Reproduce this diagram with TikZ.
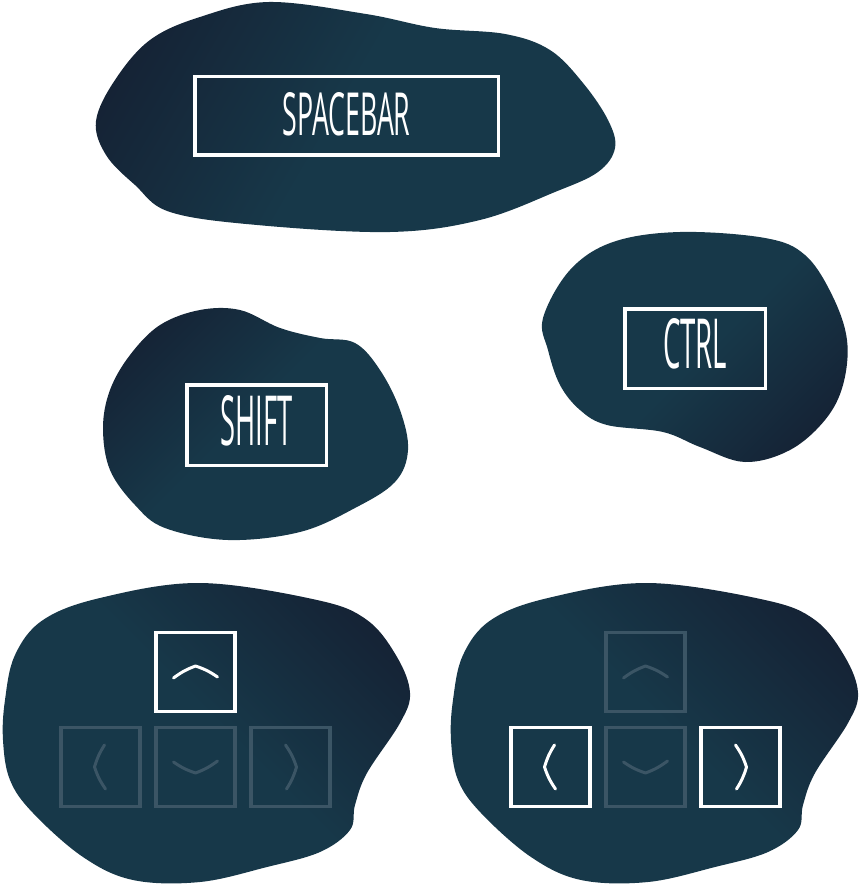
\documentclass[tikz,border=0pt]{standalone}
\usepackage{fontspec}
\setmainfont{Open Sans}
\usepackage{graphicx}
\usetikzlibrary{calc}
\definecolor{blobmain}{HTML}{173849}
\definecolor{blobdark}{HTML}{141A2D}
\definecolor{dimc}{HTML}{3B5565}
\pgfdeclarehorizontalshading{blobsh}{100bp}{color(0bp)=(blobdark); color(12bp)=(blobdark); color(48bp)=(blobmain); color(100bp)=(blobmain)}
\newcommand{\keytxt}[3]{\raisebox{-20pt}[0pt][0pt]{\resizebox{#1}{#2}{#3}}}
\begin{document}
\begin{tikzpicture}[x=1pt,y=-1pt,
  blob/.style={shading=blobsh, draw=none},
  keylabel/.style={draw=white, line width=3.5pt, inner sep=0pt, text=white},
  keybox/.style={draw=white, line width=3.5pt, inner sep=0pt, minimum size=79pt},
  dimkey/.style={draw=dimc},
  chev/.style={draw=white, line width=3pt, line cap=round, line join=round},
  dimchev/.style={draw=dimc}]
\useasboundingbox (0,0) rectangle (860,885);

% blobs
\shade[blob, shading angle=-30] plot[smooth cycle, tension=0.6] coordinates {
 (96,121) (106,155) (135,185) (170,212) (257,225) (390,232) (480,220) (555,192) (598,172) (615,148) (608,120) (583,83) (550,50) (505,34) (435,28) (366,14) (269,2) (200,17) (150,40) (115,80)};
\shade[blob, shading angle=-45] plot[smooth cycle, tension=0.6] coordinates {
 (103,428) (110,470) (135,505) (165,528) (228,540) (300,532) (355,508) (395,482) (408,450) (400,410) (380,370) (355,343) (320,338) (280,328) (240,310) (200,310) (160,325) (130,355) (110,390)};
\shade[blob, shading angle=135] plot[smooth cycle, tension=0.6] coordinates {
 (543,318) (548,350) (560,385) (580,410) (607,425) (663,432) (700,447) (745,462) (790,450) (825,420) (843,385) (847,340) (832,295) (805,255) (765,238) (680,232) (613,242) (570,270)};
\shade[blob, shading angle=-135] plot[smooth cycle, tension=0.6] coordinates {
 (3,740) (5,700) (15,655) (43,620) (100,598) (200,583) (317,600) (367,620) (397,657) (410,693) (400,723) (367,773) (355,805) (350,830) (320,852) (267,867) (200,882) (133,880) (83,857) (33,813) (10,780)};
\begin{scope}[xshift=448pt]
\shade[blob, shading angle=-135] plot[smooth cycle, tension=0.6] coordinates {
 (3,740) (5,700) (15,655) (43,620) (100,598) (200,583) (317,600) (367,620) (397,657) (410,693) (400,723) (367,773) (355,805) (350,830) (320,852) (267,867) (200,882) (133,880) (83,857) (33,813) (10,780)};
\end{scope}

% text keys
\node[keylabel, minimum width=303.5pt, minimum height=78.5pt] (space) at (346.5,116) {\keytxt{128pt}{43pt}{SPACEBAR}};
\node[keylabel, minimum width=139.5pt, minimum height=80.5pt] (shift) at (256.5,425) {\keytxt{72pt}{50pt}{SHIFT}};
\node[keylabel, minimum width=140.5pt, minimum height=79.5pt] (ctrl) at (695,348.5) {\keytxt{64pt}{50pt}{CTRL}};

% arrow keys, left group
\node[keybox] (lu) at (195.5,672) {};
\node[keybox, dimkey] (ll) at (100.5,767) {};
\node[keybox, dimkey] (ld) at (195.5,767) {};
\node[keybox, dimkey] (lr) at (290.5,767) {};
% arrow keys, right group
\node[keybox, dimkey] (ru) at (645.5,672) {};
\node[keybox] (rl) at (550.5,767) {};
\node[keybox, dimkey] (rd) at (645.5,767) {};
\node[keybox] (rr) at (740.5,767) {};

% chevrons
\draw[chev] ($(lu)+(-22,6)$) to[bend left=8] ($(lu)+(0,-6)$) to[bend left=8] ($(lu)+(22,5)$);
\draw[chev, dimchev] ($(ld)+(-22,-5)$) to[bend right=8] ($(ld)+(0,6)$) to[bend right=8] ($(ld)+(22,-6)$);
\draw[chev, dimchev] ($(ll)+(4,-22)$) to[bend right=8] ($(ll)+(-6,0)$) to[bend right=8] ($(ll)+(5,22)$);
\draw[chev, dimchev] ($(lr)+(-5,-22)$) to[bend left=8] ($(lr)+(6,0)$) to[bend left=8] ($(lr)+(-4,22)$);

\draw[chev, dimchev] ($(ru)+(-22,6)$) to[bend left=8] ($(ru)+(0,-6)$) to[bend left=8] ($(ru)+(22,5)$);
\draw[chev, dimchev] ($(rd)+(-22,-5)$) to[bend right=8] ($(rd)+(0,6)$) to[bend right=8] ($(rd)+(22,-6)$);
\draw[chev] ($(rl)+(4,-22)$) to[bend right=8] ($(rl)+(-6,0)$) to[bend right=8] ($(rl)+(5,22)$);
\draw[chev] ($(rr)+(-5,-22)$) to[bend left=8] ($(rr)+(6,0)$) to[bend left=8] ($(rr)+(-4,22)$);
\end{tikzpicture}
\end{document}
